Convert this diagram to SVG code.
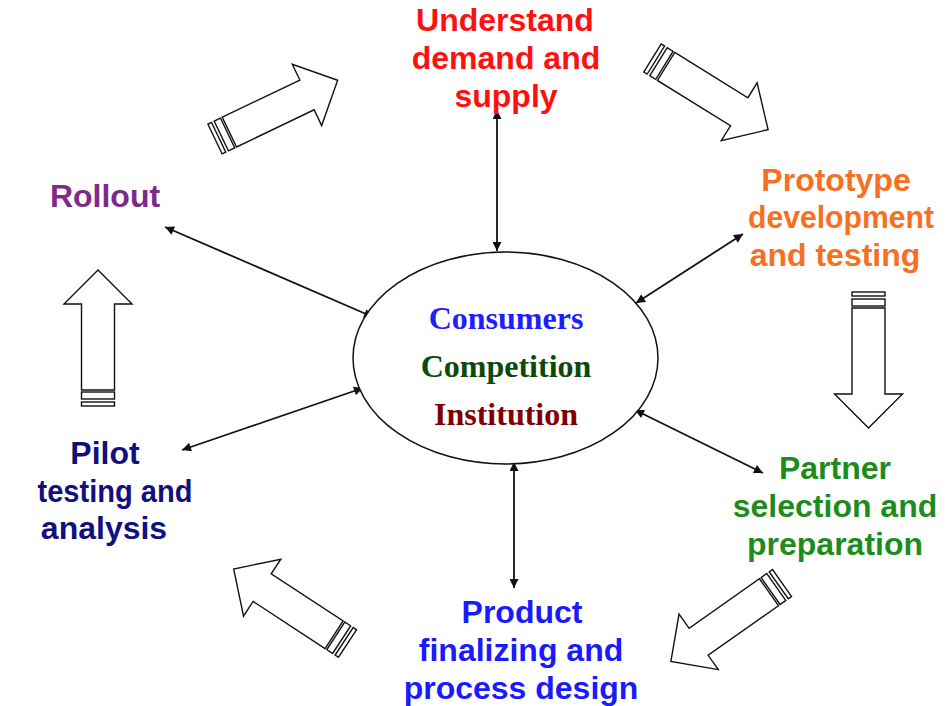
<svg xmlns="http://www.w3.org/2000/svg" width="951" height="706" viewBox="0 0 951 706">
<style>
.lbl{font-family:"Liberation Sans",Arial,sans-serif;font-weight:bold;font-size:32px;text-anchor:middle}
.ctr{font-family:"Liberation Serif","Times New Roman",serif;font-weight:bold;font-size:32px;text-anchor:middle}
.blk{fill:#fff;stroke:#111;stroke-width:1.4}
.con{stroke:#111;stroke-width:1.8;fill:none;marker-start:url(#ah);marker-end:url(#ah)}
</style>
<defs>
<marker id="ah" viewBox="0 0 10 10" refX="10" refY="5" markerWidth="11" markerHeight="9" markerUnits="userSpaceOnUse" orient="auto-start-reverse">
<path d="M0,0 L10,5 L0,10 z" fill="#111"/>
</marker>
<g id="barrow">
<rect class="blk" x="0" y="-16.5" width="4" height="33"/>
<rect class="blk" x="7" y="-16.5" width="7" height="33"/>
<path class="blk" d="M16,-16.5 H102 V-34 L136,0 L102,34 V16.5 H16 Z"/>
</g>
</defs>
<rect width="951" height="706" fill="#fff"/>

<g id="block-arrows">
<use href="#barrow" transform="translate(215,139) rotate(-25.6)"/>
<use href="#barrow" transform="translate(652.5,58) rotate(31.8)"/>
<use href="#barrow" transform="translate(868.5,292) rotate(90)"/>
<use href="#barrow" transform="translate(782,583) rotate(144.8)"/>
<use href="#barrow" transform="translate(347.5,643.5) rotate(213.2)"/>
<use href="#barrow" transform="translate(98,406) rotate(-90)"/>
</g>

<g id="connectors">
<line class="con" x1="497" y1="110" x2="497" y2="251"/>
<line class="con" x1="743" y1="234" x2="636" y2="303"/>
<line class="con" x1="635" y1="410" x2="763" y2="473"/>
<line class="con" x1="514" y1="462" x2="514" y2="588"/>
<line class="con" x1="182" y1="450" x2="363" y2="388"/>
<line class="con" x1="165" y1="227" x2="373" y2="317"/>
</g>

<g id="center">
<ellipse cx="505.5" cy="358" rx="152.5" ry="106" fill="#fff" stroke="#111" stroke-width="1.5"/>
<text class="ctr" x="506" y="329" fill="#1e1eff">Consumers</text>
<text class="ctr" x="506" y="377" fill="#0b4a0b">Competition</text>
<text class="ctr" x="506" y="425" fill="#800000">Institution</text>
</g>

<g id="understand">
<text class="lbl" fill="#ff1010"><tspan x="505" y="31">Understand</tspan><tspan x="506" y="69">demand and</tspan><tspan x="506" y="107">supply</tspan></text>
</g>
<g id="prototype">
<text class="lbl" fill="#f8701f" x="836" y="191">Prototype</text>
<text class="lbl" fill="#f8701f" x="841" y="228" textLength="186" lengthAdjust="spacingAndGlyphs">development</text>
<text class="lbl" fill="#f8701f" x="835" y="266">and testing</text>
</g>
<g id="partner">
<text class="lbl" fill="#1e8b1e"><tspan x="835" y="479">Partner</tspan><tspan x="835" y="517">selection and</tspan><tspan x="835" y="555">preparation</tspan></text>
</g>
<g id="product">
<text class="lbl" fill="#1a1aff"><tspan x="522" y="623">Product</tspan><tspan x="521" y="661">finalizing and</tspan><tspan x="521" y="699">process design</tspan></text>
</g>
<g id="pilot">
<text class="lbl" fill="#10107e" x="105" y="464">Pilot</text>
<text class="lbl" fill="#10107e" x="115" y="502" textLength="155" lengthAdjust="spacingAndGlyphs">testing and</text>
<text class="lbl" fill="#10107e" x="104" y="539">analysis</text>
</g>
<g id="rollout">
<text class="lbl" fill="#7e2a8a" x="105" y="207">Rollout</text>
</g>
</svg>
